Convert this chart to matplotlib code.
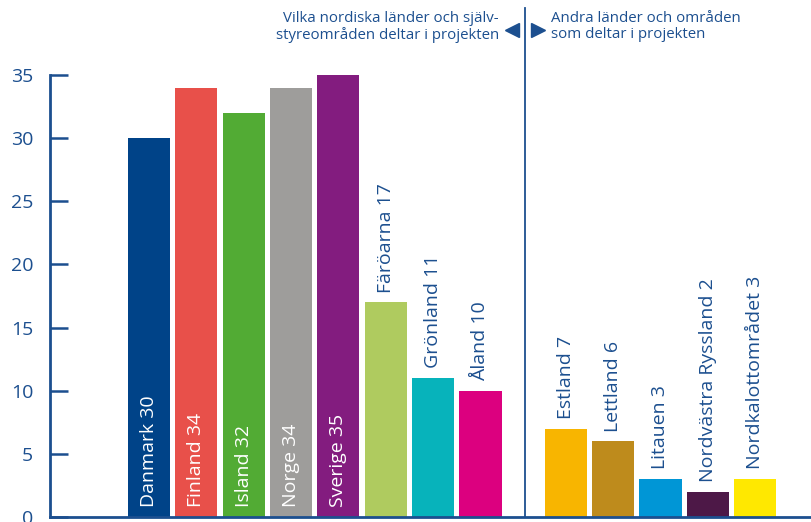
#!/usr/bin/env python3
"""Participating countries and regions per project, bar chart."""

import matplotlib

matplotlib.use("Agg")
import matplotlib.pyplot as plt

BLUE = "#1c4f8f"

nordic_names = ["Danmark", "Finland", "Island", "Norge", "Sverige", "Färöarna", "Grönland", "Åland"]
nordic_values = [30, 34, 32, 34, 35, 17, 11, 10]
nordic_colors = ["#004388", "#e8504a", "#52ab34", "#9e9d9b", "#831c7f", "#afcb5f", "#07b3bb", "#dc007f"]

other_names = ["Estland", "Lettland", "Litauen", "Nordvästra Ryssland", "Nordkalottområdet"]
other_values = [7, 6, 3, 2, 3]
other_colors = ["#f8b500", "#be8b1c", "#0096d6", "#4d1847", "#ffe800"]

y_ticks = [0, 5, 10, 15, 20, 25, 30, 35]

plt.rcParams["font.family"] = ["Open Sans", "DejaVu Sans"]

fig = plt.figure(figsize=(8.12, 5.22), dpi=100)
ax = fig.add_axes([50 / 812, 5 / 522, 1 - 50 / 812, (517 - 75) / 522])

gap = 1.8
x_nordic = list(range(len(nordic_values)))
x_other = [len(nordic_values) - 1 + gap + i for i in range(len(other_values))]
width = 0.89

ax.bar(x_nordic, nordic_values, width=width, color=nordic_colors)
ax.bar(x_other, other_values, width=width, color=other_colors)

names = nordic_names + other_names
values = nordic_values + other_values
xs = x_nordic + x_other
for x, name, v in zip(xs, names, values):
    label = f"{name} {v}"
    if v >= 30:
        ax.text(x, 0.8, label, rotation=90, ha="center", va="bottom",
                color="white", fontsize=14)
    else:
        ax.annotate(label, (x, v), xytext=(0, 7), textcoords="offset points",
                    rotation=90, ha="center", va="bottom", color=BLUE, fontsize=14)

ax.set_xlim(-2.09, 14.0)
ax.set_ylim(0, 35)
ax.set_yticks(y_ticks)
ax.set_xticks([])
ax.tick_params(axis="y", direction="in", length=13, width=1.8, colors=BLUE,
               labelsize=14, pad=12)
for side in ["top", "right"]:
    ax.spines[side].set_visible(False)
for side in ["left", "bottom"]:
    ax.spines[side].set_color(BLUE)
    ax.spines[side].set_linewidth(2)

# divider between the two groups, reaching up into the header
div_x = (x_nordic[-1] + x_other[0]) / 2 + 0.03
ax.plot([div_x, div_x], [0, 40.3], color=BLUE, linewidth=1.3, clip_on=False)

fig.text(499 / 812, 1 - 11 / 522,
         "Vilka nordiska länder och själv-\nstyreområden deltar i projekten",
         ha="right", va="top", color=BLUE, fontsize=10.8, linespacing=1.05)
fig.text(551 / 812, 1 - 11 / 522,
         "Andra länder och områden\nsom deltar i projekten",
         ha="left", va="top", color=BLUE, fontsize=10.8, linespacing=1.05)
fig.add_artist(plt.Line2D([512 / 812], [1 - 30 / 522], marker="<", markersize=10,
                          color=BLUE, linestyle="none"))
fig.add_artist(plt.Line2D([538 / 812], [1 - 30 / 522], marker=">", markersize=10,
                          color=BLUE, linestyle="none"))

fig.savefig("out.png", dpi=100)
